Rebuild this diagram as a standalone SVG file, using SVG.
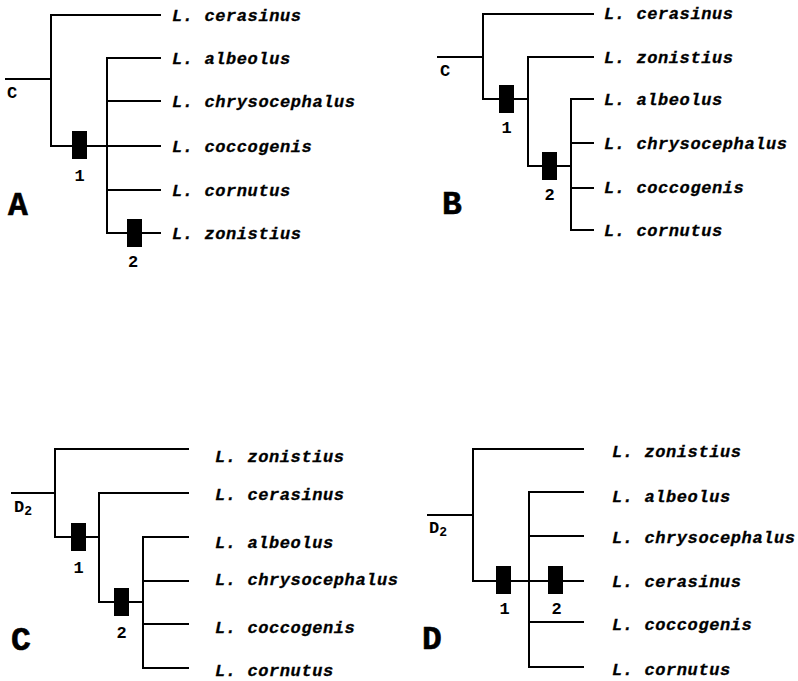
<svg xmlns="http://www.w3.org/2000/svg" width="798" height="681" viewBox="0 0 798 681">
<style>
.ln{fill:none;stroke:#000;stroke-width:2;stroke-linecap:square}
.tx{font-family:"Liberation Mono","Courier New",monospace;font-weight:bold;font-style:italic;font-size:17px;letter-spacing:0.6px;fill:#000;stroke:#000;stroke-width:0.3}
.rt{font-family:"Liberation Mono","Courier New",monospace;font-weight:bold;font-size:17px;fill:#000}
.sb{font-size:13px}
.num{font-family:"Liberation Mono","Courier New",monospace;font-weight:bold;font-size:17px;fill:#000;text-anchor:middle}
.pl{font-family:"Liberation Mono","Courier New",monospace;font-weight:bold;font-size:33px;fill:#000;stroke:#000;stroke-width:0.6}
.bar{fill:#000}
</style>
<rect width="798" height="681" fill="#fff"/>
<g id="panelA">
<g id="connectorsA">
<path class="ln" d="M6 79H51M51 15V146M51 15H160M51 146H160M107 58V233M107 58H160M107 101H160M107 190H160M107 233H160"/>
</g>
<g id="A-root"><text class="rt" x="7" y="98">C</text></g>
<g id="A-mark1"><rect class="bar" x="72" y="131" width="15" height="28"/><text class="num" x="79.5" y="181">1</text></g>
<g id="A-mark2"><rect class="bar" x="127" y="219" width="15" height="28"/><text class="num" x="133" y="267">2</text></g>
<g id="A-cerasinus"><text class="tx" x="172" y="21">L. cerasinus</text></g>
<g id="A-albeolus"><text class="tx" x="172" y="64">L. albeolus</text></g>
<g id="A-chrysocephalus"><text class="tx" x="172" y="107">L. chrysocephalus</text></g>
<g id="A-coccogenis"><text class="tx" x="172" y="152">L. coccogenis</text></g>
<g id="A-cornutus"><text class="tx" x="172" y="196">L. cornutus</text></g>
<g id="A-zonistius"><text class="tx" x="172" y="239">L. zonistius</text></g>
<g id="A-label"><text class="pl" x="8" y="215">A</text></g>
</g>
<g id="panelB">
<g id="connectorsB">
<path class="ln" d="M438 57H483M483 14V99M483 14H593M483 99H528M528 57V166M528 57H593M528 166H571M571 99V230M571 99H593M571 143H593M571 188H593M571 230H593"/>
</g>
<g id="B-root"><text class="rt" x="440" y="76">C</text></g>
<g id="B-mark1"><rect class="bar" x="499" y="85" width="15" height="28"/><text class="num" x="506.5" y="133">1</text></g>
<g id="B-mark2"><rect class="bar" x="542" y="152" width="15" height="28"/><text class="num" x="549.5" y="200">2</text></g>
<g id="B-cerasinus"><text class="tx" x="604" y="19">L. cerasinus</text></g>
<g id="B-zonistius"><text class="tx" x="604" y="63">L. zonistius</text></g>
<g id="B-albeolus"><text class="tx" x="604" y="105">L. albeolus</text></g>
<g id="B-chrysocephalus"><text class="tx" x="604" y="149">L. chrysocephalus</text></g>
<g id="B-coccogenis"><text class="tx" x="604" y="193">L. coccogenis</text></g>
<g id="B-cornutus"><text class="tx" x="604" y="236">L. cornutus</text></g>
<g id="B-label"><text class="pl" x="442" y="214">B</text></g>
</g>
<g id="panelC">
<g id="connectorsC">
<path class="ln" d="M12 493H55M55 449V537M55 449H188M55 537H99M99 493V602M99 493H188M99 602H143M143 537V668M143 537H188M143 581H188M143 624H188M143 668H188"/>
</g>
<g id="C-root"><text class="rt" x="14" y="512">D<tspan class="sb" dy="3">2</tspan></text></g>
<g id="C-mark1"><rect class="bar" x="71" y="523" width="15" height="28"/><text class="num" x="78.5" y="573">1</text></g>
<g id="C-mark2"><rect class="bar" x="114" y="588" width="15" height="28"/><text class="num" x="121.5" y="638">2</text></g>
<g id="C-zonistius"><text class="tx" x="215" y="462">L. zonistius</text></g>
<g id="C-cerasinus"><text class="tx" x="215" y="500">L. cerasinus</text></g>
<g id="C-albeolus"><text class="tx" x="215" y="548">L. albeolus</text></g>
<g id="C-chrysocephalus"><text class="tx" x="215" y="585">L. chrysocephalus</text></g>
<g id="C-coccogenis"><text class="tx" x="215" y="633">L. coccogenis</text></g>
<g id="C-cornutus"><text class="tx" x="215" y="676">L. cornutus</text></g>
<g id="C-label"><text class="pl" x="11" y="650">C</text></g>
</g>
<g id="panelD">
<g id="connectorsD">
<path class="ln" d="M428 515H473M473 449V581M473 449H583M473 581H583M529 492V667M529 492H583M529 536H583M529 622H583M529 667H583"/>
</g>
<g id="D-root"><text class="rt" x="429" y="533">D<tspan class="sb" dy="3">2</tspan></text></g>
<g id="D-mark1"><rect class="bar" x="496" y="566" width="15" height="28"/><text class="num" x="504.5" y="614">1</text></g>
<g id="D-mark2"><rect class="bar" x="548" y="566" width="15" height="28"/><text class="num" x="556.5" y="614">2</text></g>
<g id="D-zonistius"><text class="tx" x="612" y="457">L. zonistius</text></g>
<g id="D-albeolus"><text class="tx" x="612" y="502">L. albeolus</text></g>
<g id="D-chrysocephalus"><text class="tx" x="612" y="543">L. chrysocephalus</text></g>
<g id="D-cerasinus"><text class="tx" x="612" y="587">L. cerasinus</text></g>
<g id="D-coccogenis"><text class="tx" x="612" y="630">L. coccogenis</text></g>
<g id="D-cornutus"><text class="tx" x="612" y="675">L. cornutus</text></g>
<g id="D-label"><text class="pl" x="422" y="649">D</text></g>
</g>
</svg>
